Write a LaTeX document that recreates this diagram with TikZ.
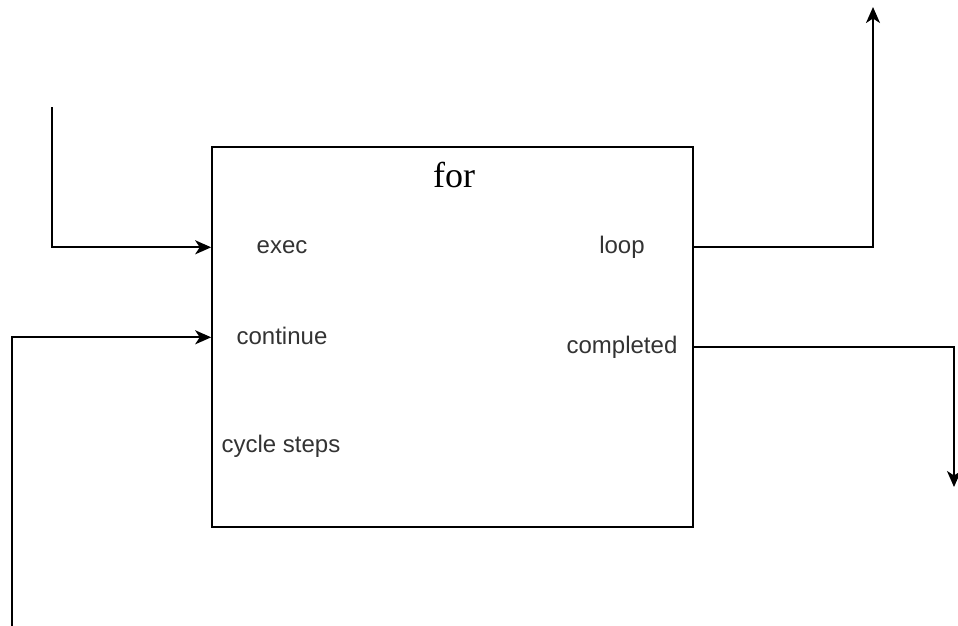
\documentclass[tikz,border=0pt]{standalone}
\usepackage{fontspec}
\setmainfont{Liberation Sans}
\newfontfamily\serifface{Liberation Serif}
\usetikzlibrary{arrows.meta}
\definecolor{labelgray}{gray}{0.2}
\tikzset{
  wire/.style={line width=2pt, draw=black, -{Stealth[length=16pt,width=14pt,inset=4.5pt]}},
  port/.style={inner sep=0pt, text=labelgray, font=\fontsize{24}{28}\selectfont, anchor=center},
  block/.style={draw=black, line width=2pt, minimum width=481pt, minimum height=380pt, inner sep=0pt}
}
\begin{document}
\begin{tikzpicture}[x=1pt,y=-1pt]
  \useasboundingbox (0,0) rectangle (958,625);
  % the for-block
  \node[block] (box) at (452.7,337.3) {};
  \node[inner sep=0pt, font=\serifface\fontsize{36}{40}\selectfont, anchor=base] (title) at (454,187) {for};
  % port labels
  \node[port] (exec) at (282,247) {exec};
  \node[port] (continue) at (282,336) {continue};
  \node[port] (cycle) at (281,446) {cycle steps};
  \node[port] (loop) at (622,247) {loop};
  \node[port] (completed) at (622,347) {completed};
  % port positions on the block edges
  \coordinate (execIn) at (box.west |- 0,247.3);
  \coordinate (contIn) at (box.west |- 0,337.3);
  \coordinate (loopOut) at (box.east |- 0,247.3);
  \coordinate (doneOut) at (box.east |- 0,347.3);
  % free ends of the connectors
  \coordinate (execStart) at (52,107);
  \coordinate (contStart) at (12,626);
  \coordinate (loopEnd) at (873,7);
  \coordinate (doneEnd) at (954,487);
  % connectors
  \draw[wire] (execStart) |- (execIn);
  \draw[wire] (contStart) |- (contIn);
  \draw[wire] (loopOut) -| (loopEnd);
  \draw[wire] (doneOut) -| (doneEnd);
\end{tikzpicture}
\end{document}
